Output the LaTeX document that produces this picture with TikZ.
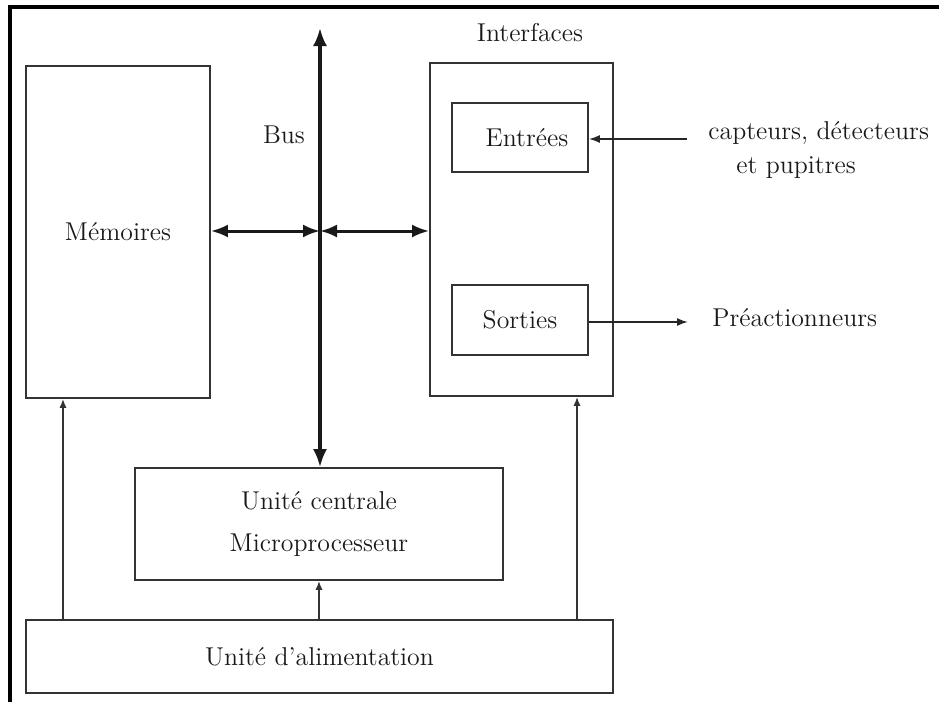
\documentclass[tikz,border=0pt]{standalone}
\usetikzlibrary{arrows.meta}
\begin{document}
\begin{tikzpicture}[x=0.5pt,y=-0.5pt,
  every node/.style={font=\fontsize{12.9}{15}\selectfont, text=black!90},
  box/.style={draw=black!80, line width=0.85pt, rectangle, inner sep=0pt},
  label/.style={inner sep=0pt},
  bus/.style={line width=1.6pt, black!90, {Latex[length=9pt,width=7pt]}-{Latex[length=9pt,width=7pt]}},
  link/.style={line width=1.5pt, black!90, {Latex[length=8.5pt,width=6.5pt]}-{Latex[length=8.5pt,width=6.5pt]}},
  pow/.style={line width=0.85pt, black!80, -{Latex[length=4.5pt,width=3.6pt]}},
  sig/.style={line width=0.85pt, black!85, -{Latex[length=5.5pt,width=4pt]}},
  frame/.style={line width=2pt, black}]

% page size
\useasboundingbox (0,0) rectangle (939,702);

% frame edges
\draw[frame] (10,702) -- (10,7) -- (939,7);

% blocks
\node[box, minimum width=92pt, minimum height=166pt] (mem) at (118,232) {Mémoires};
\node[box, minimum width=91.5pt, minimum height=166.5pt] (intf) at (521.5,229.5) {};
\node[label] (intflabel) at (530,33) {Interfaces};
\node[box, minimum width=68pt, minimum height=34.5pt] (ent) at (520,137.5) {\hspace{7pt}Entrées};
\node[box, minimum width=68pt, minimum height=35pt] (sor) at (520,320) {Sorties};
\node[box, minimum width=184pt, minimum height=56pt, align=center] (uc) at (319,524)
  {Unité centrale\\[6pt]Microprocesseur};
\node[box, minimum width=293.5pt, minimum height=36.5pt] (alim) at (319.5,656.5) {Unité d'alimentation};

% outside labels
\node[label] (buslabel) at (284,135) {Bus};
\node[label, anchor=west] (capt) at (708,133) {capteurs, détecteurs};
\node[label, anchor=west] (pupi) at (736,168) {et pupitres};
\node[label, anchor=west] (preact) at (712,318) {Préactionneurs};

% bus
\coordinate (bustop) at (320,28);
\coordinate (busx) at (320,231);
\draw[bus] (bustop) -- (uc.north -| bustop);
\draw[link] (mem.east |- busx) -- (busx);
\draw[link] (busx) -- (busx -| intf.west);

% signals
\coordinate (cin) at (687,139);
\coordinate (cout) at (688,322);
\draw[sig] (cin) -- (cin -| ent.east);
\draw[sig] (cout -| sor.east) -- (cout);

% power supply
\coordinate (p1) at (63,0);
\coordinate (p3) at (577,0);
\draw[pow] (alim.north -| p1) -- (mem.south -| p1);
\draw[pow] (alim.north -| uc.south) -- (uc.south);
\draw[pow] (alim.north -| p3) -- (intf.south -| p3);
\end{tikzpicture}
\end{document}
